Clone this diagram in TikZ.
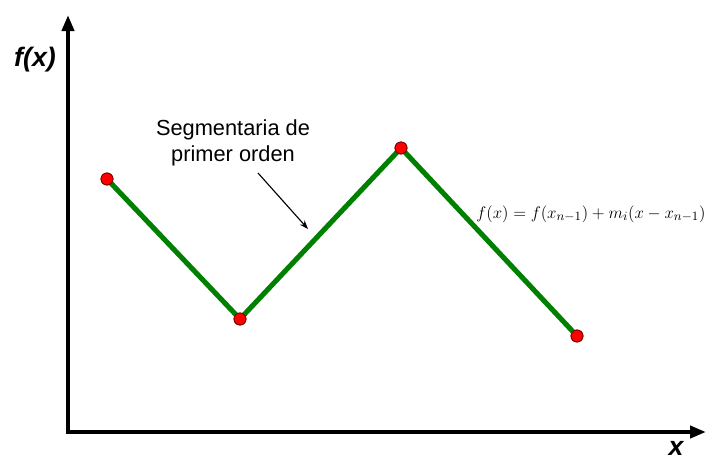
\documentclass[tikz,border=0pt]{standalone}
\usepackage{fontspec}
\setmainfont{Liberation Sans}
\usepackage{tikz}
\usetikzlibrary{arrows.meta,positioning,calc}
\usepackage{xcolor}

\begin{document}
\begin{tikzpicture}[
  x=0.025cm,y=-0.025cm,
  ax/.style={line width=2.8pt,-{Triangle[length=4mm,width=3mm]}},
  seg/.style={line width=3.6pt,green!50!black},
  pt/.style={circle,fill=red,draw=red!50!black,line width=0.6pt,minimum size=3mm,inner sep=0pt},
  lb/.style={font=\fontsize{19}{21}\selectfont\bfseries\itshape},
  an/.style={-{Stealth[length=2.2mm,width=1.6mm]},line width=0.8pt}]
  \useasboundingbox (0,0) rectangle (707,463);
  % axes
  \coordinate (O) at (68,432);
  \coordinate (Ytop) at (68,15);
  \coordinate (Xend) at (706,432);
  \draw[ax] ($(O)+(0,2)$) -- (Ytop);
  \draw[ax] ($(O)+(-2,0)$) -- (Xend);
  \node[lb] (fx) at (35,60) {f(x)};
  \node[lb] (xl) at (676,448) {x};
  % segmentaria
  \node[pt] (p1) at (107,179) {};
  \node[pt] (p2) at (240,319) {};
  \node[pt] (p3) at (401,148) {};
  \node[pt] (p4) at (577,336) {};
  \draw[seg] (p1.center) -- (p2.center) -- (p3.center) -- (p4.center);
  \foreach \p in {p1,p2,p3,p4}
    \node[pt] at (\p) {};
  \node[align=center,font=\fontsize{15.5}{18}\selectfont] (lab) at (233,143)
    {Segmentaria de\\primer orden};
  \coordinate (a1) at (258,173);
  \coordinate (a2) at (308,229);
  \draw[an] (a1) -- (a2);
  \node[font=\fontsize{12.5}{14}\selectfont] (eq) at (591,214)
    {$f(x) = f(x_{n-1}) + m_i(x - x_{n-1})$};
\end{tikzpicture}
\end{document}
